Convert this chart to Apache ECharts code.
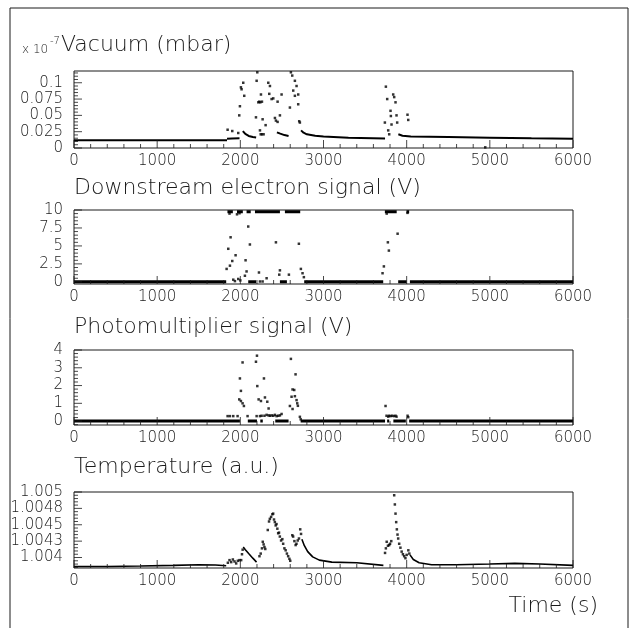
<!DOCTYPE html>
<html>
<head>
<meta charset="utf-8">
<script src="https://cdn.jsdelivr.net/npm/echarts@6/dist/echarts.min.js"></script>
<style>
  html, body { margin: 0; background: #fff; }
  #chart { width: 632px; height: 628px; }
</style>
</head>
<body>
<div id="chart"></div>
<script>
// time axis, shared by the four panels
const timeTicks = [0, 1000, 2000, 3000, 4000, 5000, 6000];

// --- Vacuum (x 10^-7 mbar)
const vacuumTicks = [0, 0.025, 0.05, 0.075, 0.1];
const vacuumTickLabels = ["0", "0.025", "0.05", "0.075", "0.1"];
const vacuumTrace = [
  [[0, 0.0119], [1840, 0.0119]],
  [[1840, 0.0142], [1900, 0.0146], [1990, 0.0148]],
  [[2030, 0.026], [2060, 0.0215], [2100, 0.0185], [2150, 0.0168], [2190, 0.016]],
  [[2440, 0.024], [2480, 0.022], [2530, 0.0198], [2580, 0.0185]],
  [[2730, 0.027], [2760, 0.0235], [2800, 0.021], [2900, 0.0188], [3000, 0.0175], [3300, 0.0158], [3740, 0.0145]],
  [[3900, 0.021], [3950, 0.0188], [4050, 0.0178], [4500, 0.0168], [5000, 0.0158], [5500, 0.0148], [6000, 0.014]]
];
const vacuumDots = [
  [1847, 0.028], [1903, 0.026], [1975, 0.023], [1987, 0.050], [1995, 0.064], [2007, 0.093], [2015, 0.090],
  [2035, 0.100], [2047, 0.080], [2188, 0.047], [2196, 0.103], [2204, 0.116], [2216, 0.070], [2228, 0.071],
  [2240, 0.070], [2248, 0.082], [2260, 0.071], [2236, 0.027], [2245, 0.021], [2260, 0.021], [2280, 0.021],
  [2268, 0.044], [2304, 0.035], [2336, 0.100], [2348, 0.083], [2356, 0.095], [2376, 0.075], [2396, 0.076],
  [2416, 0.046], [2428, 0.042], [2448, 0.040], [2448, 0.071], [2476, 0.050], [2496, 0.082], [2596, 0.062],
  [2608, 0.116], [2624, 0.111], [2636, 0.088], [2656, 0.103], [2656, 0.080], [2676, 0.095], [2696, 0.082],
  [2696, 0.067], [2708, 0.041], [2716, 0.039], [3738, 0.039], [3750, 0.094], [3766, 0.075], [3778, 0.027],
  [3790, 0.021], [3806, 0.057], [3810, 0.049], [3818, 0.036], [3838, 0.082], [3850, 0.078], [3866, 0.070],
  [3878, 0.050], [3886, 0.039], [4010, 0.051], [4019, 0.043], [4945, 0.001]
];

// --- Downstream electron signal (V)
const electronTicks = [0, 2.5, 5, 7.5, 10];
const electronTickLabels = ["0", "2.5", "5", "7.5", "10"];
const electronTrace = [
  [[0, 0], [1830, 0]], [[2095, 0], [2190, 0]], [[2476, 0], [2560, 0]],
  [[2768, 0], [3718, 0]], [[3898, 0], [4000, 0]], [[4039, 0], [6000, 0]],
  [[1845, 9.75], [1910, 9.75]], [[1960, 9.75], [2030, 9.75]], [[2075, 9.75], [2125, 9.75]],
  [[2176, 9.75], [2476, 9.75]], [[2536, 9.75], [2720, 9.75]], [[3738, 9.75], [3880, 9.75]],
  [[3998, 9.75], [4030, 9.75]]
];
const electronDots = [
  [1835, 1.8], [1855, 4.6], [1875, 2.25], [1883, 6.2], [1903, 2.9], [1915, 0.3], [1935, 0.1], [1943, 3.7],
  [1975, 0.4], [2000, 0.2], [2055, 0.85], [2063, 3.0], [2075, 1.45], [2095, 7.7], [2115, 5.2], [2224, 1.3],
  [2236, 0.05], [2268, 0.05], [2316, 0.5], [2428, 5.5], [2468, 1.0], [2476, 1.6], [2584, 1.0], [2704, 5.3],
  [2728, 1.8], [2748, 1.2], [2764, 0.65], [3710, 1.2], [3726, 2.15], [3774, 5.5], [3786, 4.35], [3891, 6.7],
  [1870, 9.5], [1960, 9.4], [1990, 9.55], [3760, 9.5], [4010, 9.6]
];

// --- Photomultiplier signal (V)
const pmtTicks = [0, 1, 2, 3, 4];
const pmtTickLabels = ["0", "1", "2", "3", "4"];
const pmtTrace = [
  [[0, 0], [1995, 0]], [[2090, 0], [2200, 0]], [[2240, 0], [2270, 0]], [[2420, 0], [2580, 0]],
  [[2725, 0], [3740, 0]], [[3765, 0], [3790, 0]], [[3840, 0], [3990, 0]], [[4030, 0], [6000, 0]]
];
const pmtDots = [
  [1847, 0.28], [1875, 0.28], [1915, 0.28], [1967, 0.28], [1987, 1.22], [1995, 2.4], [2007, 1.7], [2007, 1.13],
  [2027, 3.3], [2027, 1.0], [2043, 0.85], [2087, 0.28], [2188, 3.34], [2200, 3.68], [2204, 1.97], [2220, 1.22],
  [2248, 1.13], [2284, 2.4], [2296, 1.33], [2324, 1.09], [2340, 0.71], [2196, 0.28], [2236, 0.28], [2256, 0.3],
  [2290, 0.3], [2316, 0.35], [2340, 0.32], [2356, 0.3], [2376, 0.32], [2396, 0.3], [2416, 0.35], [2436, 0.28],
  [2456, 0.3], [2476, 0.32], [2496, 0.4], [2596, 0.85], [2608, 3.5], [2616, 1.37], [2628, 1.78], [2628, 0.68],
  [2648, 1.75], [2656, 1.4], [2664, 2.63], [2676, 1.18], [2684, 1.0], [2692, 0.86], [2716, 0.24], [2726, 0.1],
  [3746, 0.85], [3758, 0.3], [3778, 0.25], [3790, 0.3], [3806, 0.28], [3826, 0.3], [3846, 0.28], [3866, 0.3],
  [3878, 0.25], [4011, 0.3], [4019, 0.22]
];

// --- Temperature (a.u.)
const tempTicks = [1.004, 1.00425, 1.0045, 1.00475, 1.005];
const tempTickLabels = ["1.004", "1.0043", "1.0045", "1.0048", "1.005"];
const tempTrace = [
  [[0, 1.003862], [400, 1.003862], [800, 1.00387], [1200, 1.00388], [1500, 1.00389], [1700, 1.003885], [1830, 1.003875]],
  [[2035, 1.00416], [2060, 1.00412], [2100, 1.00406], [2150, 1.00399], [2195, 1.00393]],
  [[2740, 1.00428], [2770, 1.00418], [2810, 1.00409], [2870, 1.00401], [2950, 1.00396], [3100, 1.00393], [3400, 1.00392], [3720, 1.00388]],
  [[4040, 1.00404], [4080, 1.00397], [4150, 1.00392], [4300, 1.00389], [4600, 1.00389], [5000, 1.0039], [5300, 1.00391], [5600, 1.0039], [6000, 1.00388]]
];
const tempDots = [
  [1850, 1.00392], [1870, 1.00396], [1890, 1.00393], [1910, 1.00397], [1930, 1.00394], [1950, 1.00391],
  [1970, 1.00395], [1990, 1.00396], [2010, 1.00396], [2020, 1.00405], [2028, 1.00412],
  [2230, 1.00402], [2245, 1.00406], [2260, 1.00414], [2270, 1.00424], [2280, 1.0042], [2290, 1.00416], [2300, 1.00413],
  [2330, 1.00442], [2345, 1.00455], [2355, 1.00459], [2370, 1.00462], [2385, 1.00466], [2395, 1.00467],
  [2405, 1.00458], [2415, 1.00454], [2425, 1.00449], [2435, 1.00451], [2445, 1.00444], [2455, 1.00437],
  [2465, 1.00438], [2475, 1.00432], [2490, 1.00426], [2505, 1.00428], [2515, 1.00421], [2530, 1.00414],
  [2545, 1.00411], [2560, 1.00406], [2575, 1.00402], [2590, 1.00398], [2600, 1.00395],
  [2625, 1.00434], [2635, 1.00432], [2650, 1.00425], [2665, 1.00419], [2675, 1.00421], [2690, 1.00426],
  [2705, 1.00429], [2720, 1.00443], [2730, 1.00436],
  [3740, 1.00407], [3750, 1.00414], [3760, 1.00424], [3775, 1.00418], [3790, 1.00419], [3800, 1.00421], [3815, 1.00425],
  [3850, 1.00495], [3858, 1.00481], [3866, 1.00467], [3874, 1.00454], [3882, 1.00443], [3890, 1.00435],
  [3898, 1.00429], [3910, 1.00421], [3925, 1.00415], [3940, 1.00409], [3955, 1.00405], [3970, 1.00402],
  [3985, 1.00399], [4000, 1.00404], [4020, 1.00411], [4032, 1.00406]
];

const FONT = "DejaVu Sans";
const INK = "#1a1a1a";

const panels = [
  { top: 71, height: 77, min: 0, max: 0.118, step: 0.025, ticks: vacuumTicks, labels: vacuumTickLabels, trace: vacuumTrace, dots: vacuumDots, width: 2 },
  { top: 210, height: 74, min: -0.3, max: 10, step: 2.5, ticks: electronTicks, labels: electronTickLabels, trace: electronTrace, dots: electronDots, width: 3 },
  { top: 350, height: 75, min: -0.22, max: 4, step: 1, ticks: pmtTicks, labels: pmtTickLabels, trace: pmtTrace, dots: pmtDots, width: 3 },
  { top: 492, height: 76, min: 1.00384, max: 1.005, step: 0.00025, ticks: tempTicks, labels: tempTickLabels, trace: tempTrace, dots: tempDots, width: 1.6 }
];

// minor tick positions: 5 sub-divisions of each labelled step, kept inside the axis range
function minorValues(ticks, step, min, max) {
  const out = [];
  const sub = step / 5;
  const first = ticks[0] - step;
  for (let k = 0; k <= (ticks.length + 1) * 5; k++) {
    const v = first + k * sub;
    if (v > min && v < max && k % 5 !== 0) out.push(v);
  }
  return out;
}

const axisText = { fontFamily: FONT, fontSize: 15, fontWeight: 200, color: INK };

const grid = panels.map((p) => ({
  left: 74, width: 499, top: p.top, height: p.height,
  show: true, borderColor: INK, borderWidth: 1, backgroundColor: "transparent"
}));

const xAxis = panels.map((p, i) => ({
  type: "value", gridIndex: i, min: 0, max: 6000,
  axisLine: { show: false }, axisTick: { show: false }, splitLine: { show: false },
  axisLabel: { ...axisText, margin: 6, customValues: timeTicks, formatter: (v) => String(v) }
}));

const yAxis = panels.map((p, i) => ({
  type: "value", gridIndex: i, min: p.min, max: p.max,
  axisLine: { show: false }, axisTick: { show: false }, splitLine: { show: false },
  axisLabel: { ...axisText, margin: 11, customValues: p.ticks,
    formatter: (v) => p.labels[p.ticks.findIndex((t) => Math.abs(t - v) < p.step * 0.01)] ?? "" }
}));

// tick marks: thin rect symbols sitting on the frame, pointing inward
const tickMark = (i, data, size, offset) => ({
  type: "scatter", xAxisIndex: i, yAxisIndex: i, data,
  symbol: "rect", symbolSize: size, symbolOffset: offset,
  silent: true, animation: false, z: 5, itemStyle: { color: INK }
});

const series = [];
panels.forEach((p, i) => {
  p.trace.forEach((seg) => {
    series.push({
      type: "line", xAxisIndex: i, yAxisIndex: i, data: seg,
      showSymbol: false, silent: true, animation: false,
      lineStyle: { color: "#000", width: p.width }
    });
  });
  series.push({
    type: "scatter", xAxisIndex: i, yAxisIndex: i, data: p.dots,
    symbol: "rect", symbolSize: 2.5, silent: true, animation: false,
    itemStyle: { color: "#000" }
  });
  series.push(tickMark(i, timeTicks.map((t) => [t, p.min]), [1, 8], [0, -4]));
  series.push(tickMark(i, minorValues(timeTicks, 1000, 0, 6000).map((t) => [t, p.min]), [1, 4], [0, -2]));
  series.push(tickMark(i, p.ticks.map((v) => [0, v]), [8, 1], [4, 0]));
  series.push(tickMark(i, minorValues(p.ticks, p.step, p.min, p.max).map((v) => [0, v]), [4, 1], [2, 0]));
});

const titleText = (pos, text, size) => ({
  type: "text", ...pos,
  style: { text, fontFamily: FONT, fontSize: size, fontWeight: 200, fill: INK }
});

const chart = echarts.init(document.getElementById("chart"));
chart.setOption({
  animation: false,
  grid, xAxis, yAxis, series,
  graphic: [
    { type: "rect", shape: { x: 10, y: 8, width: 618, height: 640 }, style: { fill: "none", stroke: INK, lineWidth: 1 }, silent: true },
    titleText({ left: 22, top: 44 }, "x 10", 12),
    titleText({ left: 50, top: 36 }, "-7", 10),
    titleText({ left: 61, top: 34 }, "Vacuum (mbar)", 22),
    titleText({ left: 74, top: 177 }, "Downstream electron signal (V)", 22),
    titleText({ left: 74, top: 316 }, "Photomultiplier signal (V)", 22),
    titleText({ left: 74, top: 456 }, "Temperature (a.u.)", 22),
    titleText({ right: 34, top: 595 }, "Time (s)", 22)
  ]
});
</script>
</body>
</html>
